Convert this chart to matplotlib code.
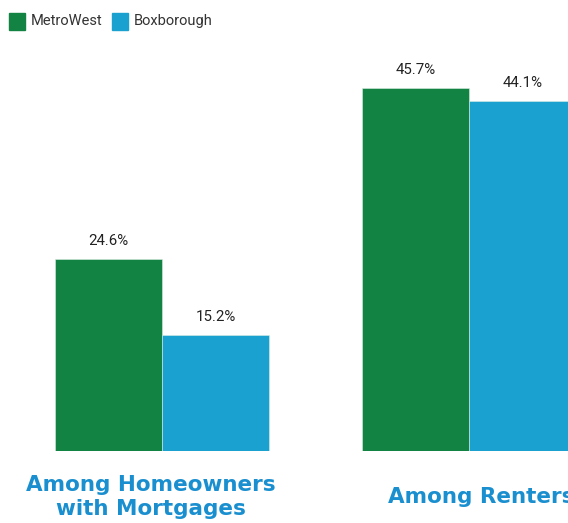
import matplotlib
matplotlib.use("Agg")
import matplotlib.pyplot as plt
from matplotlib.patches import Rectangle

categories = ["Among Homeowners\nwith Mortgages", "Among Renters"]
series_names = ["MetroWest", "Boxborough"]
metrowest = [24.6, 45.7]
boxborough = [15.2, 44.1]
colors = ["#138343", "#1ba1cf"]
label_color = "#1a8fcf"

W, H = 568, 523
fig = plt.figure(figsize=(W / 100, H / 100), dpi=100)
base_px = 451
zero_px = 458
scale = 8.1
ax = fig.add_axes([0, (H - base_px) / H, 1, base_px / H])
x0 = -162 / 307
ax.set_xlim(x0, x0 + W / 307)
ax.set_ylim((zero_px - base_px) / scale, zero_px / scale)
ax.axis("off")

bw = 107 / 307
xs = list(range(len(categories)))
for i, (vals, c) in enumerate([(metrowest, colors[0]), (boxborough, colors[1])]):
    pos = [x + (i - 0.5) * bw for x in xs]
    ax.bar(pos, vals, width=bw, color=c, align="center",
           edgecolor="#d9eee4", linewidth=0.4)
    for p, v in zip(pos, vals):
        ax.annotate(f"{v}%", (p, v), xytext=(0, 7.5), textcoords="offset points",
                    ha="center", va="bottom", fontsize=10.8, family="Roboto",
                    color="#222222")

# category labels
label_x_px = [151, 481]
for lx, cat in zip(label_x_px, categories):
    fig.text(lx / W, 1 - 497 / H, cat, ha="center", va="center",
             fontsize=15.5, fontweight="bold", color=label_color,
             family="DejaVu Sans", linespacing=1.3)

# legend
for sx, tx, name, c in [(9, 31, series_names[0], colors[0]), (112, 134, series_names[1], colors[1])]:
    fig.patches.append(Rectangle((sx / W, 1 - 30 / H), 16 / W, 17 / H,
                                 transform=fig.transFigure, color=c, figure=fig))
    fig.text(tx / W, 1 - 21 / H, name, ha="left", va="center",
             fontsize=10.5, family="Roboto", color="#333333")

fig.savefig("out.png", dpi=100)
